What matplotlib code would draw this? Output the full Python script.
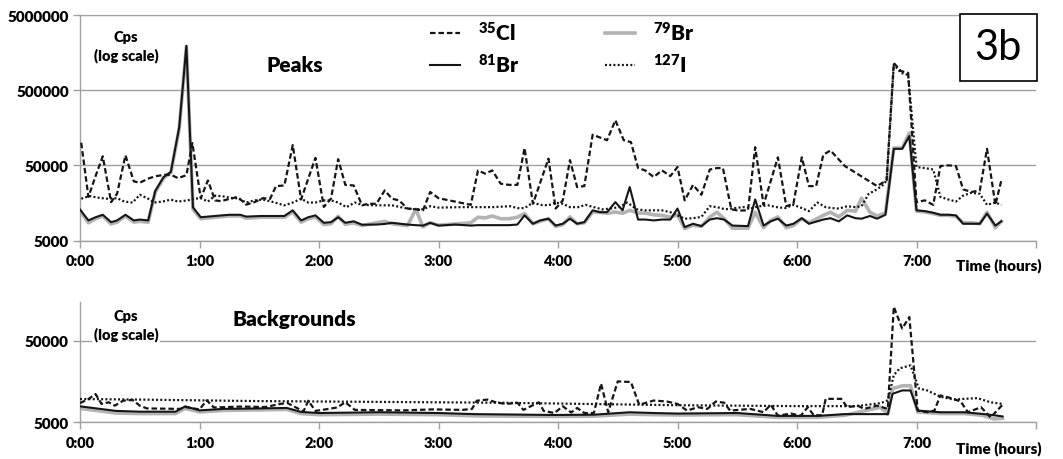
import matplotlib
matplotlib.use("Agg")
import matplotlib.pyplot as plt
from matplotlib.patches import Rectangle

plt.rcParams['font.family'] = ['Lato', 'DejaVu Sans']
plt.rcParams['mathtext.default'] = 'regular'

# ---- Peaks (time in hours, counts per second) ----
peak_cl_t = [0.01, 0.07, 0.13, 0.19, 0.26, 0.31, 0.38, 0.45, 0.50, 0.58, 0.64, 0.71, 0.76, 0.82, 0.89, 0.94,
             1.01, 1.07, 1.13, 1.18, 1.25, 1.32, 1.39, 1.46, 1.53, 1.59, 1.64, 1.71, 1.78, 1.85, 1.97,
             2.04, 2.10, 2.16, 2.22, 2.29, 2.36, 2.41, 2.48, 2.55, 2.61, 2.67, 2.74, 2.81, 2.87, 2.93,
             3.00, 3.27, 3.33, 3.39, 3.45, 3.52, 3.59, 3.66, 3.72, 3.79, 3.92, 3.98,
             4.04, 4.10, 4.16, 4.22, 4.29, 4.41, 4.48, 4.55, 4.61, 4.67, 4.73, 4.80, 4.87, 4.94,
             5.00, 5.06, 5.13, 5.20, 5.27, 5.33, 5.38, 5.45, 5.51, 5.59, 5.65, 5.72, 5.84, 5.91, 5.97,
             6.04, 6.10, 6.16, 6.22, 6.28, 6.40, 6.67, 6.75, 6.81, 6.87, 6.93,
             7.00, 7.07, 7.14, 7.20, 7.27, 7.33, 7.39, 7.46, 7.53, 7.59, 7.66, 7.71]
peak_cl = [100000, 19000, 36000, 66000, 16200, 21000, 68000, 30600, 29400, 33800, 36000, 37500, 37500, 33800, 37000, 99000,
           18300, 31500, 17100, 16700, 17900, 19000, 15000, 16200, 18300, 17900, 26500, 27000, 93000, 17600, 63000,
           14000, 18000, 60500, 27500, 27000, 14700, 15400, 15400, 23200, 18000, 17100, 13300, 13000, 12600, 22100,
           18300, 14900, 42800, 38800, 42800, 28500, 27500, 27500, 85000, 15400, 61500, 13300,
           17100, 58800, 25700, 26500, 128000, 108000, 199000, 108000, 102000, 46000, 42800, 35000, 42800, 36000,
           47500, 17100, 27500, 20300, 44000, 46000, 46000, 13000, 12500, 12600, 87300, 14900, 64000, 14300, 15400,
           64000, 26500, 26500, 69000, 79000, 49000, 26500, 31600, 1150000, 900000, 850000,
           16200, 17100, 14900, 49000, 50000, 49000, 24000, 22100, 23200, 83000, 14900, 31600]

peak_i_t = [0.01, 0.08, 0.15, 0.22, 0.31, 0.37, 0.44, 0.50, 0.57, 0.62, 0.69, 0.76, 0.82, 0.90, 0.96,
            1.01, 1.07, 1.13, 1.20, 1.27, 1.32, 1.39, 1.46, 1.53, 1.60, 1.71, 1.78, 1.85, 1.91, 1.97,
            2.04, 2.10, 2.16, 2.23, 2.30, 2.36, 2.48, 2.61, 2.74, 2.81, 2.87, 2.93,
            3.00, 3.20, 3.45, 3.60, 3.66, 3.72, 3.79, 3.85, 3.92, 3.98,
            4.04, 4.10, 4.17, 4.23, 4.30, 4.37, 4.44, 4.51, 4.58, 4.66, 4.73, 4.80, 4.87, 4.94,
            5.00, 5.06, 5.13, 5.20, 5.27, 5.33, 5.40, 5.48, 5.55, 5.62, 5.69, 5.76, 5.83, 5.90, 5.97,
            6.04, 6.10, 6.17, 6.24, 6.29, 6.35, 6.42, 6.49, 6.54, 6.60, 6.67, 6.72, 6.75, 6.81, 6.87, 6.93,
            7.00, 7.07, 7.14, 7.20, 7.27, 7.33, 7.39, 7.46, 7.53, 7.59, 7.66, 7.71]
peak_i = [18000, 19500, 18600, 18000, 18300, 16500, 16000, 20300, 18000, 16000, 16500, 17500, 16500, 17100, 18000,
          18300, 16500, 19800, 19300, 18300, 18300, 16000, 17100, 17500, 16500, 14700, 16000, 18000, 16000, 16000,
          17100, 17100, 16000, 13900, 16000, 14900, 14700, 14700, 13300, 13000, 13000, 14300,
          13700, 13900, 13900, 14300, 13500, 13500, 16000, 14900, 14700, 16000,
          15400, 13900, 13900, 14900, 13900, 13000, 13300, 13900, 16000, 13000, 12600, 12600, 12600, 11900,
          10800, 9750, 9900, 10300, 14300, 13900, 13000, 13500, 13900, 13500, 14300, 14700, 13900, 13500, 14900,
          13500, 12300, 16000, 13900, 13500, 13300, 14300, 13900, 14300, 20900, 24000, 27500, 31600, 1100000, 850000, 800000,
          47500, 46000, 44000, 19000, 17500, 16500, 19800, 21600, 20900, 14900, 16000, 14900]

peak_br_t = [0.00, 0.07, 0.13, 0.19, 0.26, 0.31, 0.38, 0.45, 0.50, 0.57, 0.63, 0.70, 0.76, 0.83, 0.89, 0.945,
             1.01, 1.13, 1.25, 1.34, 1.39, 1.52, 1.71, 1.78, 1.85, 1.91, 1.97,
             2.04, 2.10, 2.16, 2.22, 2.29, 2.36, 2.48, 2.55, 2.61, 2.74, 2.81, 2.87, 2.93,
             3.00, 3.14, 3.27, 3.33, 3.39, 3.45, 3.52, 3.59, 3.66, 3.72, 3.79, 3.85, 3.92, 3.98,
             4.04, 4.10, 4.16, 4.22, 4.29, 4.35, 4.41, 4.48, 4.54, 4.60, 4.67, 4.73, 4.80, 4.87, 4.94,
             5.00, 5.06, 5.13, 5.20, 5.27, 5.33, 5.39, 5.46, 5.59, 5.65, 5.72, 5.78, 5.84, 5.91, 5.97,
             6.04, 6.10, 6.22, 6.28, 6.35, 6.42, 6.49, 6.54, 6.61, 6.67, 6.74, 6.81, 6.88, 6.94,
             7.00, 7.07, 7.14, 7.20, 7.27, 7.33, 7.39, 7.46, 7.53, 7.59, 7.66, 7.71]
peak_br81 = [12900, 9250, 10200, 11000, 8770, 9250, 11000, 9250, 9500, 9250, 23000, 35000, 41000, 161000, 1950000, 13800,
             10200, 10600, 11000, 11000, 10400, 10600, 10600, 12600, 9250, 10200, 10800,
             8600, 8770, 10200, 8600, 9000, 8100, 8150, 8300, 8600, 8150, 8000, 7900, 8600,
             7900, 8150, 7900, 8000, 8000, 8000, 8000, 8000, 8150, 10800, 8350, 9250, 9750, 7900,
             8350, 9750, 8350, 8770, 12600, 11900, 11900, 16200, 12600, 25700, 9500, 9500, 9250, 9500, 9500,
             13300, 7530, 8350, 7770, 9500, 9900, 9500, 7900, 7770, 17600, 7900, 9000, 9750, 7900, 8350,
             9900, 8350, 9500, 9900, 9000, 10800, 9900, 9750, 10600, 9750, 11000, 83000, 83000, 123000,
             12600, 12300, 11700, 11000, 11000, 10800, 8350, 8350, 8350, 11400, 7900, 9000]
peak_br79 = [12300, 8600, 9750, 10600, 8300, 8770, 10600, 8770, 9000, 8770, 22000, 34000, 40000, 155000, 1900000, 13000,
             9750, 10200, 10600, 10600, 9900, 10200, 10200, 12000, 8770, 9750, 10300,
             8150, 8350, 10500, 8200, 8600, 7900, 8600, 9000, 8350, 7900, 13000, 7600, 8600,
             8000, 8300, 8600, 10200, 10000, 10600, 9750, 9750, 10200, 11400, 8350, 9000, 9750, 7700,
             8150, 10300, 8350, 8600, 12000, 11900, 11500, 12000, 11500, 12600, 11600, 11600, 11000, 10800, 10200,
             11000, 7200, 8000, 7700, 10300, 11900, 9750, 7300, 7300, 11900, 7400, 9250, 10300, 7400, 7900,
             9750, 8600, 10800, 11900, 10300, 12600, 12300, 18300, 11900, 10600, 11600, 85000, 85000, 135000,
             12300, 12000, 11400, 10800, 10800, 10500, 8600, 8600, 8350, 11900, 7400, 9000]

# ---- Backgrounds ----
bg_cl_t = [0.00, 0.07, 0.13, 0.18, 0.24, 0.29, 0.36, 0.44, 0.50, 0.56, 0.84, 0.88, 0.95,
           1.00, 1.06, 1.12, 1.35, 1.55, 1.73, 1.80, 1.87, 1.91, 1.97,
           2.08, 2.15, 2.22, 2.30, 2.70, 2.95, 3.20, 3.28, 3.32, 3.41, 3.49, 3.57, 3.66, 3.71, 3.84, 3.88, 3.97,
           4.04, 4.11, 4.16, 4.22, 4.30, 4.36, 4.42, 4.50, 4.61, 4.68, 4.80, 4.91,
           5.00, 5.08, 5.17, 5.25, 5.32, 5.39, 5.44, 5.61, 5.72, 5.78, 5.84, 5.95,
           6.03, 6.09, 6.14, 6.21, 6.24, 6.37, 6.42, 6.51, 6.56, 6.67, 6.76, 6.81, 6.88, 6.94,
           7.01, 7.09, 7.15, 7.20, 7.29, 7.37, 7.43, 7.54, 7.62, 7.72]
bg_cl = [8600, 9650, 11100, 8400, 8800, 8000, 9200, 9400, 8000, 7400, 7300, 7700, 7400,
         7200, 9300, 7600, 7800, 7700, 8700, 7700, 6800, 9200, 6900,
         7300, 7600, 8800, 7100, 7000, 7200, 7100, 7300, 9200, 9500, 8700, 8400, 8700, 7100, 8800, 6900, 6500,
         7870, 6600, 7500, 6500, 6500, 14900, 6650, 15900, 15600, 8200, 9250, 9000,
         8400, 6960, 7660, 7300, 9000, 8700, 6960, 7300, 6650, 8200, 6040, 6400,
         6000, 7660, 6100, 6100, 9700, 9700, 7660, 8000, 7300, 8000, 7300, 131000, 70800, 98000,
         6960, 6650, 6960, 10700, 9900, 9000, 6650, 7660, 5750, 8200]

bg_i_t = [0.00, 0.5, 1.0, 1.5, 2.0, 2.5, 3.0, 3.5, 4.0, 4.5, 5.0, 5.5, 6.0, 6.5, 6.7, 6.76, 6.81, 6.86, 6.95,
          7.02, 7.09, 7.20, 7.31, 7.40, 7.51, 7.62, 7.72]
bg_i = [9650, 9500, 9300, 9100, 9000, 8900, 8800, 8700, 8500, 8300, 8100, 8000, 7900, 7900, 8600, 9300, 19000, 23000, 25000,
        13000, 12300, 10300, 9500, 9700, 9900, 8800, 8400]

bg_br_t = [0.00, 0.3, 0.5, 0.8, 0.88, 1.0, 1.2, 1.5, 1.73, 1.85, 2.0, 2.5, 3.0, 3.3, 3.96, 4.3, 4.6, 4.8,
           5.0, 5.5, 5.84, 6.17, 6.4, 6.7, 6.76, 6.80, 6.88, 6.95, 7.01, 7.2, 7.4, 7.55, 7.65, 7.72]
bg_br81 = [7850, 6900, 6750, 6750, 7850, 7000, 7300, 7400, 7500, 6700, 6500, 6650, 6500, 6300, 6150, 6200, 6640, 6500,
           6400, 6500, 5990, 5990, 6300, 6300, 6300, 11200, 12300, 12300, 6960, 6640, 6640, 6340, 6100, 5900]
bg_br79 = [7400, 6500, 6400, 6400, 7400, 6700, 7000, 7100, 7200, 6400, 6200, 6300, 6200, 6000, 5900, 5950, 6300, 6200,
           6150, 6200, 5750, 5750, 6100, 7660, 6300, 13000, 14000, 14100, 6700, 6400, 6400, 6100, 5500, 5600]

hours = [0, 1, 2, 3, 4, 5, 6, 7, 8]
hour_labels = ['0:00', '1:00', '2:00', '3:00', '4:00', '5:00', '6:00', '7:00', '']

ink = '#151515'
grey_line = '#b3b3b3'
grid_c = '#a0a0a0'
bold = 'heavy'

fig = plt.figure(figsize=(10.63, 4.6), dpi=100)
ax1 = fig.add_axes([0.0753, 0.475, 0.8993, 0.490])
ax2 = fig.add_axes([0.0753, 0.0798, 0.8993, 0.2615])


def draw(ax, cl_t, cl, i_t, i_v, br_t, br79, br81):
    h79, = ax.plot(br_t, br79, color=grey_line, lw=2.6, solid_joinstyle='round', zorder=2)
    hi, = ax.plot(i_t, i_v, color=ink, lw=1.6, dashes=(0.9, 1.0), zorder=3)
    h81, = ax.plot(br_t, br81, color=ink, lw=1.5, zorder=4)
    hcl, = ax.plot(cl_t, cl, color=ink, lw=1.6, dashes=(2.5, 1.3), zorder=5)
    return hcl, h81, h79, hi


def style(ax, ylim, yticks):
    ax.set_yscale('log')
    ax.set_ylim(*ylim)
    ax.set_xlim(0, 8)
    ax.set_yticks(yticks)
    ax.set_yticklabels([str(v) for v in yticks], fontsize=11, fontweight=bold)
    ax.minorticks_off()
    ax.set_xticks(hours)
    ax.set_xticklabels(hour_labels, fontsize=10.5, fontweight=bold)
    ax.tick_params(axis='both', length=5, color=grid_c, width=1, pad=3)
    ax.tick_params(axis='x', pad=5)
    ax.yaxis.grid(True, color=grid_c, lw=1)
    ax.set_axisbelow(True)
    for s in ('top', 'right'):
        ax.spines[s].set_visible(False)
    for s in ('left', 'bottom'):
        ax.spines[s].set_color(grid_c)
        ax.spines[s].set_linewidth(1)


handles = draw(ax1, peak_cl_t, peak_cl, peak_i_t, peak_i, peak_br_t, peak_br79, peak_br81)
style(ax1, (5000, 5000000), [5000, 50000, 500000, 5000000])
ax1.spines['top'].set_visible(True)
ax1.spines['top'].set_color(grid_c)

draw(ax2, bg_cl_t, bg_cl, bg_i_t, bg_i, bg_br_t, bg_br79, bg_br81)
style(ax2, (5000, 150000), [5000, 50000])

leg = ax1.legend(handles, [r'$^{35}$Cl', r'$^{81}$Br', r'$^{79}$Br', r'$^{127}$I'],
                 ncol=2, frameon=False, loc='upper left',
                 bbox_to_anchor=(430 / 1063, 1 - 21 / 460), bbox_transform=fig.transFigure,
                 prop={'weight': bold, 'size': 15}, handlelength=1.45, handletextpad=0.85,
                 columnspacing=4.1, labelspacing=0.42, borderpad=0, borderaxespad=0)

fig.text(126 / 1063, 1 - 47 / 460, 'Cps\n(log scale)', ha='center', va='center',
         fontsize=10.5, fontweight=bold, linespacing=1.3)
fig.text(295 / 1063, 1 - 65 / 460, 'Peaks', ha='center', va='center', fontsize=15, fontweight=bold)
fig.text(126 / 1063, 1 - 326 / 460, 'Cps\n(log scale)', ha='center', va='center',
         fontsize=10.5, fontweight=bold, linespacing=1.3,
         bbox=dict(fc='white', ec='none', pad=1.5))
fig.text(294 / 1063, 1 - 320 / 460, 'Backgrounds', ha='center', va='center', fontsize=15, fontweight=bold)

fig.text(956 / 1063, 1 - 266 / 460, 'Time (hours)', ha='left', va='center', fontsize=11, fontweight=bold)
fig.text(956 / 1063, 1 - 449 / 460, 'Time (hours)', ha='left', va='center', fontsize=11, fontweight=bold)

fig.patches.append(Rectangle((960 / 1063, 1 - 82 / 460), 77 / 1063, 67 / 460, transform=fig.transFigure,
                             fc='white', ec='black', lw=1.2, zorder=10))
fig.text(998 / 1063, 1 - 48 / 460, '3b', ha='center', va='center', fontsize=30, zorder=11)

fig.savefig('out.png', dpi=100)
